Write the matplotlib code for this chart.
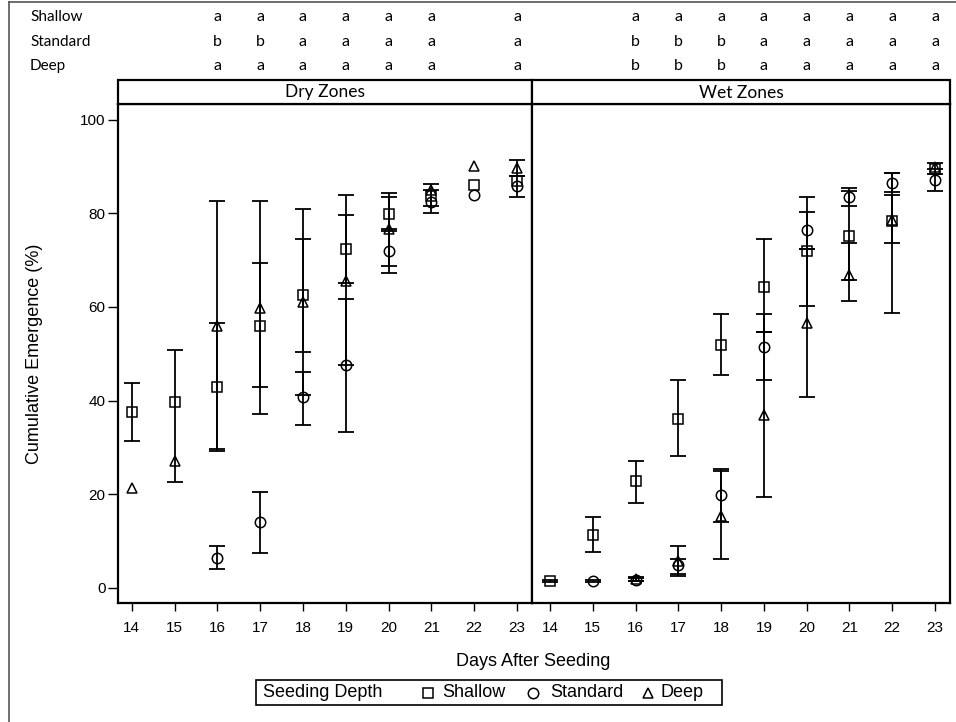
import numpy as np
import matplotlib
matplotlib.use("Agg")
import matplotlib.pyplot as plt
from matplotlib.lines import Line2D
from matplotlib.patches import Rectangle
import matplotlib.transforms as mtransforms

plt.rcParams["font.family"] = ["Liberation Sans", "DejaVu Sans"]

nan = np.nan
days = [14, 15, 16, 17, 18, 19, 20, 21, 22, 23]
depths = ["Shallow", "Standard", "Deep"]
panels = ["Dry Zones", "Wet Zones"]

# ---- Dry zones ----
dry_shallow = [37.5, 39.7, 42.9, 56.0, 62.5, 72.4, 79.8, 83.8, 86.1, 87.0]
dry_shallow_lo = [31.3, 22.6, 29.1, 42.9, 50.3, 65.1, 76.2, 81.5, nan, nan]
dry_shallow_hi = [43.7, 50.9, 56.6, 69.4, 74.6, 79.7, 83.6, 86.3, nan, nan]

dry_standard = [nan, nan, 6.3, 14.0, 40.8, 47.6, 71.9, 82.5, 84.0, 85.8]
dry_standard_lo = [nan, nan, 4.0, 7.3, 34.8, 33.2, 67.2, 80.0, nan, 83.6]
dry_standard_hi = [nan, nan, 8.8, 20.4, 46.0, 61.8, 76.6, 85.0, nan, 88.0]

dry_deep = [21.3, 27.0, 55.9, 59.7, 61.0, 65.5, 76.6, 85.0, 90.1, 89.8]
dry_deep_lo = [nan, nan, 29.6, 37.1, 41.2, 47.6, 68.8, nan, nan, 88.0]
dry_deep_hi = [nan, nan, 82.7, 82.7, 81.0, 84.0, 84.3, nan, nan, 91.5]

# ---- Wet zones ----
wet_shallow = [1.4, 11.3, 22.7, 36.1, 51.8, 64.2, 71.9, 75.2, 78.4, 89.6]
wet_shallow_lo = [1.2, 7.6, 18.1, 28.1, 45.4, 54.6, 60.1, 65.8, 73.7, 88.5]
wet_shallow_hi = [1.6, 15.0, 27.1, 44.4, 58.5, 74.6, 83.5, 84.9, 83.9, 90.7]

wet_standard = [nan, 1.4, 1.7, 4.8, 19.7, 51.5, 76.5, 83.6, 86.6, 87.2]
wet_standard_lo = [nan, 1.2, 1.3, 2.8, 14.0, 44.4, 72.5, 81.5, 84.5, 84.9]
wet_standard_hi = [nan, 1.6, 2.1, 6.2, 25.4, 58.5, 80.4, 85.5, 88.6, 89.5]

wet_deep = [nan, nan, 1.8, 5.6, 15.4, 37.0, 56.6, 66.9, 78.6, 90.0]
wet_deep_lo = [nan, nan, 1.4, 2.4, 6.2, 19.4, 40.7, 61.2, 58.7, nan]
wet_deep_hi = [nan, nan, 2.2, 8.8, 25.0, 54.6, 72.5, 73.7, 88.6, nan]

# ---- significance letters ----
dry_letter_days = [16, 17, 18, 19, 20, 21, 23]
dry_letters_shallow = ["a", "a", "a", "a", "a", "a", "a"]
dry_letters_standard = ["b", "b", "a", "a", "a", "a", "a"]
dry_letters_deep = ["a", "a", "a", "a", "a", "a", "a"]
wet_letter_days = [16, 17, 18, 19, 20, 21, 22, 23]
wet_letters_shallow = ["a", "a", "a", "a", "a", "a", "a", "a"]
wet_letters_standard = ["b", "b", "b", "a", "a", "a", "a", "a"]
wet_letters_deep = ["b", "b", "b", "a", "a", "a", "a", "a"]

y_ticks = [0, 20, 40, 60, 80, 100]

W, H = 956, 722
fig = plt.figure(figsize=(W / 100, H / 100), dpi=100)
fig.patch.set_facecolor("white")

def fx(px):
    return px / W

def fy(py):
    return 1 - py / H

top_px, bot_px = 104, 603
ax_dry = fig.add_axes([fx(118), fy(bot_px), fx(532 - 118), (bot_px - top_px) / H])
ax_wet = fig.add_axes([fx(532), fy(bot_px), fx(950 - 532), (bot_px - top_px) / H])

markers = {"Shallow": "s", "Standard": "o", "Deep": "^"}
msizes = {"Shallow": 7, "Standard": 7.5, "Deep": 7.5}

dry_data = {
    "Shallow": (dry_shallow, dry_shallow_lo, dry_shallow_hi),
    "Standard": (dry_standard, dry_standard_lo, dry_standard_hi),
    "Deep": (dry_deep, dry_deep_lo, dry_deep_hi),
}
wet_data = {
    "Shallow": (wet_shallow, wet_shallow_lo, wet_shallow_hi),
    "Standard": (wet_standard, wet_standard_lo, wet_standard_hi),
    "Deep": (wet_deep, wet_deep_lo, wet_deep_hi),
}

FONT2 = ["Lato", "DejaVu Sans"]
TICK_FS = 11
LABEL_FS = 13

for ax, data in [(ax_dry, dry_data), (ax_wet, wet_data)]:
    x = np.array(days, dtype=float)
    for d in depths:
        m, lo, hi = (np.array(v, dtype=float) for v in data[d])
        ok = ~np.isnan(lo) & ~np.isnan(hi) & ~np.isnan(m)
        if ok.any():
            ax.errorbar(x[ok], m[ok], yerr=[m[ok] - lo[ok], hi[ok] - m[ok]],
                        fmt="none", ecolor="black", elinewidth=1.3,
                        capsize=6, capthick=1.3, zorder=2)
        okm = ~np.isnan(m)
        ax.plot(x[okm], m[okm], linestyle="none", marker=markers[d],
                markersize=msizes[d], markerfacecolor="none",
                markeredgecolor="black", markeredgewidth=1.1, zorder=3)
    ax.set_ylim(-3.3, 103.4)
    ax.set_xticks(days)
    ax.set_xticklabels([str(d) for d in days], fontsize=TICK_FS)
    ax.tick_params(axis="x", direction="out", length=6, width=1, pad=7)
    for s in ax.spines.values():
        s.set_linewidth(1.6)
    ax.set_facecolor("white")

ax_dry.set_xlim(13.68, 23.35)
ax_wet.set_xlim(13.58, 23.35)
ax_dry.set_yticks(y_ticks)
ax_dry.set_yticklabels([str(v) for v in y_ticks], fontsize=TICK_FS)
ax_dry.tick_params(axis="y", direction="out", length=7, width=1, pad=2)
ax_wet.set_yticks([])

fig.text(fx(35), fy(354), "Cumulative Emergence (%)", rotation=90, ha="center", va="center",
         fontsize=LABEL_FS)
fig.text(fx(533), fy(662), "Days After Seeding", ha="center", va="center",
         fontsize=LABEL_FS)

# panel headers
for ax, title, (l, r) in [(ax_dry, panels[0], (118, 532)), (ax_wet, panels[1], (532, 950))]:
    rect = Rectangle((fx(l), fy(top_px)), fx(r - l), (top_px - 80) / H,
                     transform=fig.transFigure, facecolor="white",
                     edgecolor="black", linewidth=1.6)
    fig.add_artist(rect)
    fig.text(fx((l + r) / 2), fy(92.5), title, ha="center", va="center",
             fontfamily=FONT2, fontsize=12.5)

# significance letter rows
row_y = {"Shallow": 17, "Standard": 42, "Deep": 66}
for d in depths:
    fig.text(fx(30), fy(row_y[d]), d, ha="left", va="center", fontfamily=FONT2, fontsize=11)
for ax, ldays, rows in [
    (ax_dry, dry_letter_days, {"Shallow": dry_letters_shallow, "Standard": dry_letters_standard, "Deep": dry_letters_deep}),
    (ax_wet, wet_letter_days, {"Shallow": wet_letters_shallow, "Standard": wet_letters_standard, "Deep": wet_letters_deep}),
]:
    tr = mtransforms.blended_transform_factory(ax.transData, fig.transFigure)
    for d in depths:
        for xd, let in zip(ldays, rows[d]):
            ax.text(xd, fy(row_y[d]), let, transform=tr, ha="center", va="center",
                    fontfamily=FONT2, fontsize=11.5, clip_on=False)

# legend (drawn manually)
lx0, lx1, ly0, ly1 = 256, 722, 680, 705
fig.add_artist(Rectangle((fx(lx0), fy(ly1)), fx(lx1 - lx0), (ly1 - ly0) / H,
                         transform=fig.transFigure, facecolor="white",
                         edgecolor="black", linewidth=1.2))
ly = fy(692.5)
fig.text(fx(263), ly, "Seeding Depth", ha="left", va="center", fontsize=LABEL_FS)
items = [("Shallow", 428, 442), ("Standard", 533, 550), ("Deep", 648, 661)]
for d, mx, tx in items:
    fig.add_artist(Line2D([fx(mx)], [ly], transform=fig.transFigure, marker=markers[d],
                          markersize=msizes[d], markerfacecolor="none",
                          markeredgecolor="black", markeredgewidth=1.1, linestyle="none"))
    fig.text(fx(tx), ly, d, ha="left", va="center", fontsize=LABEL_FS)

# outer frame (left and top edges)
fig.add_artist(Line2D([fx(9), fx(9)], [0, fy(2)], transform=fig.transFigure, color="#555555", linewidth=1.2))
fig.add_artist(Line2D([fx(9), 1], [fy(2), fy(2)], transform=fig.transFigure, color="#555555", linewidth=1.2))

fig.savefig("out.png", dpi=100, facecolor="white")
